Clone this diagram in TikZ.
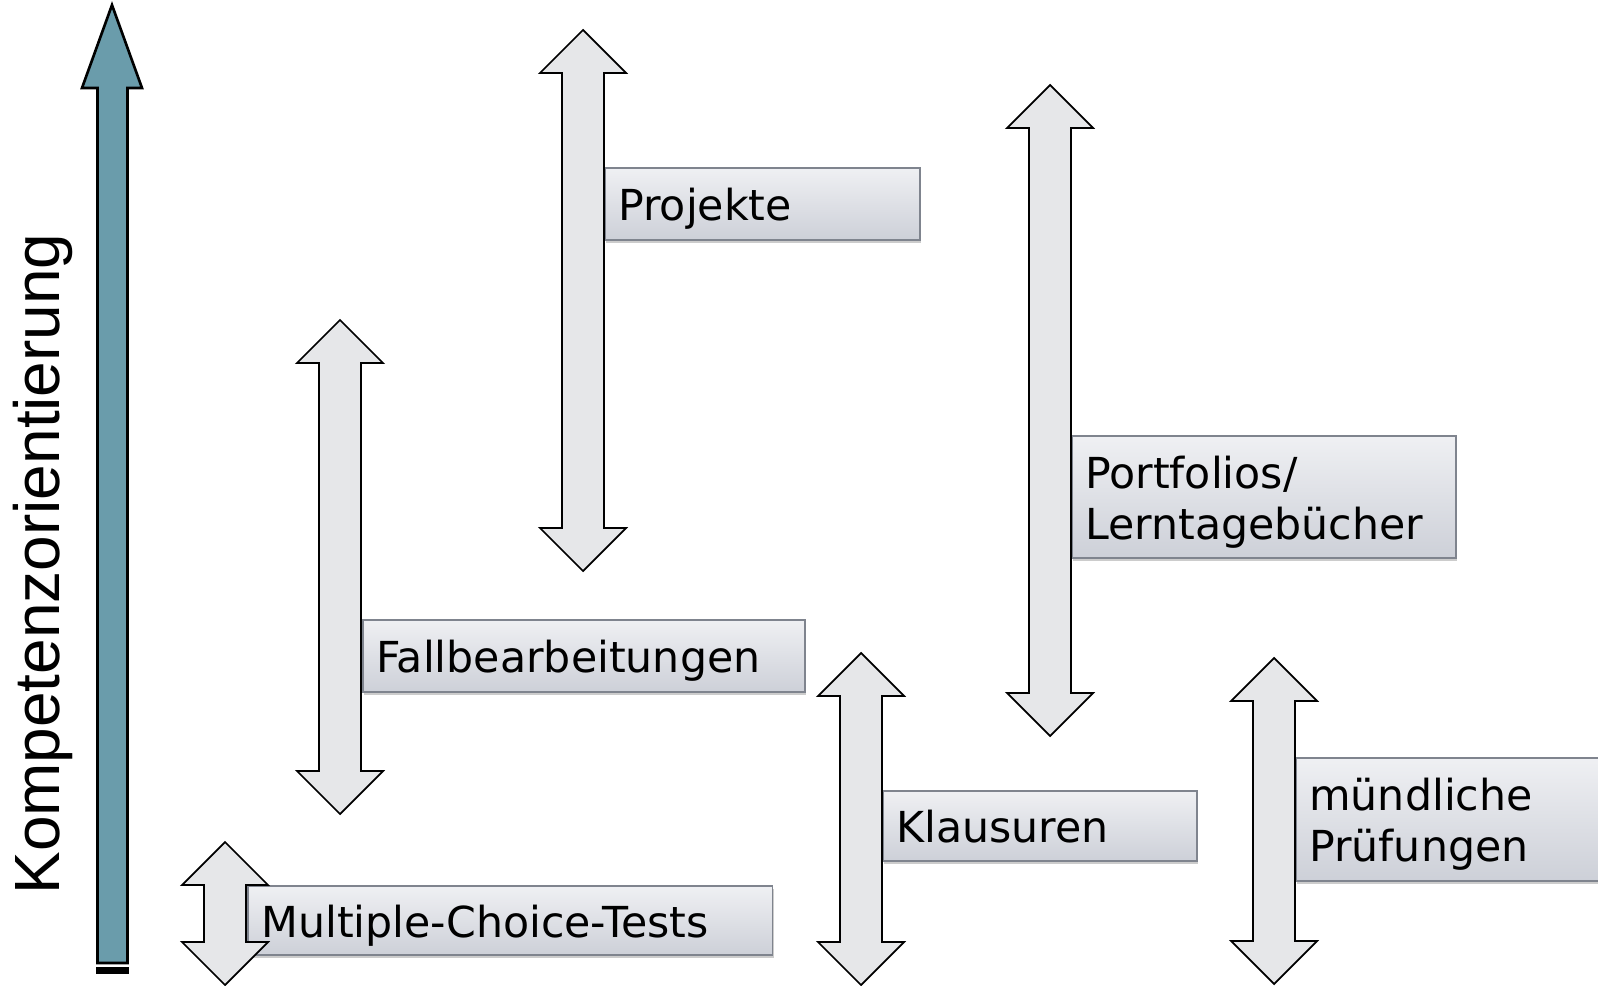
\documentclass[tikz,border=0pt]{standalone}
\usepackage{fontspec}
\setmainfont{DejaVu Sans}
\newfontfamily\arialfont{Liberation Sans}
\usetikzlibrary{shadows,positioning}
\definecolor{kompblau}{HTML}{6A9CAB}
\definecolor{pfeilgrau}{HTML}{E6E7E9}
\definecolor{boxoben}{HTML}{EFF0F3}
\definecolor{boxunten}{HTML}{CDD0D8}
\definecolor{boxrand}{HTML}{7F848E}
\tikzset{
  bigarr/.style = { draw=black, line width=1.5pt, fill=kompblau, line join=miter },
  dbl/.style    = { draw=black, line width=1pt, fill=pfeilgrau, line join=miter },
  lbl/.style    = { draw=boxrand, line width=0.9pt, top color=boxoben, bottom color=boxunten,
    anchor=north west, align=left, inner xsep=0.27cm, inner ysep=0pt,
    text height=0.78cm, text depth=0.1cm,
    font=\fontsize{24.3}{29}\selectfont,
    drop shadow={shadow xshift=0.6pt, shadow yshift=-1.6pt, opacity=0.4} },
  zwei/.style   = { text depth=1.12cm }
}
% double arrow: x, top tip, bottom tip (in px)
\newcommand{\dblarrow}[3]{%
  \draw[dbl] (#1,#2) -- (#1+43,#2+43) -- (#1+21,#2+43) -- (#1+21,#3-43)
    -- (#1+43,#3-43) -- (#1,#3) -- (#1-43,#3-43) -- (#1-21,#3-43)
    -- (#1-21,#2+43) -- (#1-43,#2+43) -- cycle;}

\begin{document}
\begin{tikzpicture}[x=0.02cm,y=-0.02cm]
  \useasboundingbox (0,0) rectangle (1598,986);

  % Achse
  \draw[bigarr] (112,5) -- (142,88) -- (127.5,88) -- (127.5,963) -- (97.5,963)
    -- (97.5,88) -- (82,88) -- cycle;
  \draw[bigarr, fill=black] (97.5,968.5) rectangle (127.5,973);
  \node[rotate=90, anchor=base, font=\arialfont\fontsize{36.4}{40}\selectfont]
    (komp) at (59,564) {Kompetenzorientierung};

  % Beschriftungen
  \node[lbl, minimum width=10.5cm, minimum height=1.38cm, text width=9.96cm]
    (mc) at (247,885) {Multiple-Choice-Tests};
  \node[lbl, minimum width=8.84cm, minimum height=1.44cm, text width=8.3cm]
    (fall) at (362,619) {Fallbearbeitungen};
  \node[lbl, minimum width=6.3cm, minimum height=1.44cm, text width=5.76cm]
    (proj) at (604,167) {Projekte};
  \node[lbl, zwei, minimum width=7.68cm, minimum height=2.44cm, text width=7.14cm]
    (port) at (1071,435) {Portfolios/\\Lerntagebücher};
  \node[lbl, minimum width=6.28cm, minimum height=1.4cm, text width=5.74cm]
    (klaus) at (882,790) {Klausuren};
  \node[lbl, zwei, minimum width=6.6cm, minimum height=2.46cm, text width=6.06cm]
    (muend) at (1295,757) {mündliche\\Prüfungen};

  % Pfeile
  \dblarrow{225}{842}{985}
  \dblarrow{340}{320}{814}
  \dblarrow{583}{30}{571}
  \dblarrow{1050}{85}{736}
  \dblarrow{861}{653}{985}
  \dblarrow{1274}{658}{984}
\end{tikzpicture}
\end{document}
